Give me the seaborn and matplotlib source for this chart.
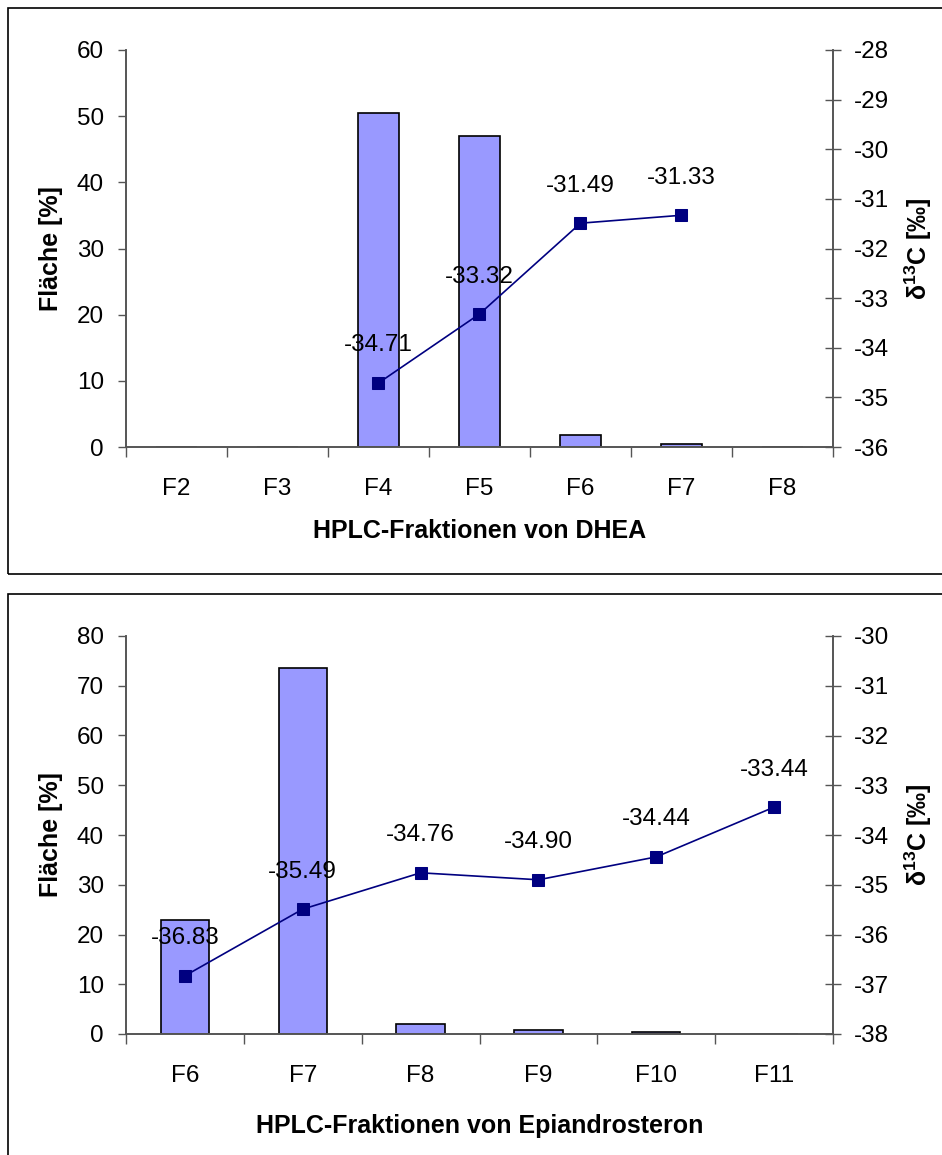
import numpy as np
import pandas as pd
import matplotlib
matplotlib.use('Agg')
import matplotlib.pyplot as plt
import seaborn as sns
from matplotlib.patches import Rectangle

# data
dhea_fractions = ['F2', 'F3', 'F4', 'F5', 'F6', 'F7', 'F8']
dhea_area = [0, 0, 50.5, 47.0, 1.8, 0.4, 0]
dhea_delta_fractions = ['F4', 'F5', 'F6', 'F7']
dhea_delta = [-34.71, -33.32, -31.49, -31.33]

epi_fractions = ['F6', 'F7', 'F8', 'F9', 'F10', 'F11']
epi_area = [22.9, 73.6, 2.0, 0.8, 0.4, 0]
epi_delta_fractions = ['F6', 'F7', 'F8', 'F9', 'F10', 'F11']
epi_delta = [-36.83, -35.49, -34.76, -34.90, -34.44, -33.44]

sns.set_style('white')
plt.rcParams['font.family'] = ['Liberation Sans', 'DejaVu Sans']
plt.rcParams['text.color'] = 'black'
plt.rcParams['axes.labelcolor'] = 'black'
plt.rcParams['xtick.color'] = 'black'
plt.rcParams['ytick.color'] = 'black'
plt.rcParams['mathtext.fontset'] = 'custom'
plt.rcParams['mathtext.rm'] = 'Liberation Sans'
plt.rcParams['mathtext.bf'] = 'Liberation Sans:bold'

BAR = '#9999FF'
LINE = '#000080'
FS = 17.5
LFS = 18

fig = plt.figure(figsize=(9.42, 11.55), dpi=100)
W, H = 942, 1155

# outer frames as in the spreadsheet export
fig.patches.append(Rectangle((8 / W, 1 - 574 / H), 1.0, 566 / H, transform=fig.transFigure,
                             fill=False, edgecolor='black', linewidth=1.2))
fig.patches.append(Rectangle((8 / W, -0.05), 1.0, 1 - 594 / H + 0.05, transform=fig.transFigure,
                             fill=False, edgecolor='black', linewidth=1.2))


def panel(rect, cats, area, dcats, delta, ylim, yticks, y2lim, y2ticks, xlabel, barw, xpad):
    ax = fig.add_axes(rect)
    df = pd.DataFrame({'frac': cats, 'area': area})
    sns.barplot(data=df, x='frac', y='area', color=BAR, edgecolor='black',
                linewidth=1.2, width=barw, saturation=1, ax=ax)
    ax.set_ylim(*ylim)
    ax.set_yticks(yticks)
    ax.set_xlim(-0.5, len(cats) - 0.5)
    ax.set_xticks(np.arange(len(cats)))
    ax.set_xticks(np.arange(len(cats) + 1) - 0.5, minor=True)
    ax.tick_params(axis='x', which='major', length=0, labelsize=FS, pad=22)
    ax.tick_params(axis='x', which='minor', length=7, width=1, color='#555555', direction='out', bottom=True)
    ax.tick_params(axis='y', length=6, width=1, color='#555555', direction='out', left=True, labelsize=FS, pad=10)
    ax.set_xlabel(xlabel, fontsize=LFS, fontweight='bold', labelpad=xpad)
    ax.set_ylabel('Fläche [%]', fontsize=LFS, fontweight='bold', labelpad=10)
    ax.spines['top'].set_visible(False)
    for s in ['left', 'bottom', 'right']:
        ax.spines[s].set_color('#555555')
        ax.spines[s].set_linewidth(1.2)

    ax2 = ax.twinx()
    pos = [cats.index(c) for c in dcats]
    sns.lineplot(x=pos, y=delta, color=LINE, marker='s', markersize=8.5,
                 markeredgecolor=LINE, linewidth=1.2, ax=ax2)
    ax2.set_ylim(*y2lim)
    ax2.set_yticks(y2ticks)
    ax2.set_yticklabels([str(t) for t in y2ticks])
    ax2.tick_params(axis='y', length=11.5, width=1, color='#555555', direction='inout', right=True,
                    labelsize=FS, pad=9)
    ax2.set_ylabel(r'$\mathbf{δ^{13}C}$ [‰]', fontsize=LFS, fontweight='bold', labelpad=10)
    ax2.spines['top'].set_visible(False)
    for s in ['left', 'bottom', 'right']:
        ax2.spines[s].set_color('#555555')
        ax2.spines[s].set_linewidth(1.2)
    for p, v in zip(pos, delta):
        ax2.annotate(f'{v:.2f}', (p, v), xytext=(0, 27), textcoords='offset points',
                     ha='center', va='center', fontsize=FS)
    ax.set_xlim(-0.5, len(cats) - 0.5)
    return ax, ax2


panel([126 / W, 1 - 447 / H, 707 / W, 397 / H], dhea_fractions, dhea_area,
      dhea_delta_fractions, dhea_delta, (0, 60), np.arange(0, 61, 10),
      (-36, -28), list(range(-36, -27)), 'HPLC-Fraktionen von DHEA', 0.4, 14)

panel([126 / W, 1 - 1034 / H, 707 / W, 398 / H], epi_fractions, epi_area,
      epi_delta_fractions, epi_delta, (0, 80), np.arange(0, 81, 10),
      (-38, -30), list(range(-38, -29)), 'HPLC-Fraktionen von Epiandrosteron', 0.41, 20)

fig.savefig('out.png', dpi=100)
